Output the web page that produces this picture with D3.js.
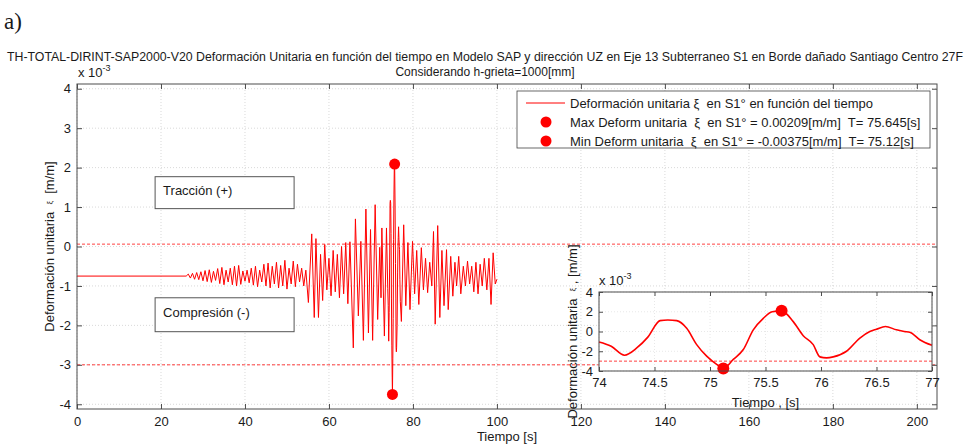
<!DOCTYPE html>
<html>
<head>
<meta charset="utf-8">
<script src="https://cdn.jsdelivr.net/npm/d3@7"></script>
<style>
  body { margin: 0; background: #fff; }
  text { font-family: "Liberation Sans", Arial, Helvetica, sans-serif; fill: #1a1a1a; white-space: pre; }
</style>
</head>
<body>
<svg id="fig" width="967" height="444"></svg>
<script>
// ---- strain record (x10^-3 m/m) versus time [s] ----
const quietT = [0, 26];
const quietV = [-0.75, -0.75];

const buildUpT = [26.5, 27.0, 27.5, 28.0, 28.5, 29.0, 29.5, 30.0, 30.5, 31.0, 31.5, 32.0, 32.5, 33.0, 33.5, 34.0,
  34.5, 35.0, 35.5, 36.0, 36.5, 37.0, 37.5, 38.0, 38.5, 39.0, 39.5, 40.0, 40.5, 41.0, 41.5, 42.0, 42.5, 43.0,
  43.5, 44.0, 44.5, 45.0, 45.5, 46.0, 46.5, 47.0, 47.5, 48.0, 48.5, 49.0, 49.5, 50.0, 50.5, 51.0, 51.5, 52.0,
  52.5, 53.0, 53.5, 54.0, 54.5];
const buildUpV = [-0.70, -0.80, -0.68, -0.83, -0.66, -0.84, -0.64, -0.87, -0.61, -0.89, -0.59, -0.91, -0.63, -0.86, -0.56, -0.94,
  -0.53, -0.97, -0.60, -0.90, -0.55, -0.97, -0.50, -1.00, -0.48, -0.96, -0.62, -0.88, -0.60, -0.92, -0.55, -0.98, -0.50, -1.02,
  -0.60, -0.90, -0.45, -1.00, -0.42, -1.05, -0.50, -0.95, -0.40, -1.05, -0.48, -1.00, -0.35, -1.08, -0.55, -0.95, -0.37, -1.02,
  -0.45, -0.90, -0.55, -1.00, -0.60];

const strongT = [55.1, 55.9, 56.5, 56.9, 57.5, 58.0, 58.5, 59.0, 59.5, 60.0, 60.5, 61.0, 61.5, 62.0, 62.5, 63.0, 63.5,
  64.0, 64.5, 65.0, 65.8, 66.3, 67.0, 67.6, 68.2, 68.8, 69.4, 69.9, 70.4, 71.0, 71.6, 72.1, 72.4, 72.6, 73.2, 73.7];
const strongV = [-1.42, 0.32, -1.80, 0.20, -1.80, -0.20, -1.37, 0.05, -1.10, -0.30, -1.25, -0.10, -1.15, -0.20, -1.30, 0.00, -1.20,
  0.10, -1.45, 0.12, -2.57, 0.70, -1.76, 0.13, -2.38, 0.95, -2.19, 0.43, -2.38, 1.06, -1.85, -0.02, -1.30, 0.47, -2.27, 0.47];

// detail window 74 s - 77 s (also drawn in the inset)
const detailT = [74.00, 74.11, 74.23, 74.34, 74.44, 74.55, 74.62, 74.70, 74.79, 74.88, 74.97, 75.06, 75.12, 75.21, 75.30,
  75.39, 75.48, 75.56, 75.645, 75.75, 75.84, 75.93, 75.99, 76.05, 76.11, 76.23, 76.35, 76.44, 76.50, 76.58, 76.68,
  76.75, 76.80, 76.89, 77.00];
const detailV = [-1.07, -1.50, -2.40, -1.67, -0.57, 1.10, 1.17, 1.10, 0.33, -1.33, -2.50, -3.33, -3.75, -2.83, -1.83,
  0.17, 1.33, 2.00, 2.09, 1.00, -0.43, -1.33, -2.57, -2.67, -2.57, -2.00, -0.67, 0.00, 0.23, 0.50, 0.17,
  0.00, -0.07, -0.83, -1.40];

const codaT = [77.25, 77.8, 78.3, 78.8, 79.3, 79.9, 80.4, 80.9, 81.4, 82.0, 82.5, 83.0, 83.5, 84.0, 84.5, 84.9, 85.3,
  85.9, 86.4, 86.9, 87.4, 88.0, 88.4, 89.0, 89.5, 90.0, 90.4, 90.9, 91.4, 92.0, 92.5, 93.0, 93.5, 94.0, 94.5,
  95.0, 95.5, 96.0, 96.5, 97.0, 97.6, 98.1, 98.6, 99.1, 99.6, 100.0];
const codaV = [-1.90, 0.55, -1.50, 0.10, -1.60, 0.13, -1.20, -0.10, -1.47, -0.03, -1.10, -0.30, -1.17, -0.40, -1.00, 0.38, -1.97,
  0.53, -1.80, -0.10, -1.50, -0.08, -1.60, -0.25, -1.26, -0.40, -1.00, -0.25, -1.20, -0.50, -1.00, -0.37, -0.95, -0.50, -1.15,
  -0.40, -1.20, -0.45, -1.00, -0.30, -1.10, -0.30, -1.47, -0.16, -0.95, -0.83];

// extreme values and reference limits
const maxT = 75.645, maxV = 2.09;
const minT = 75.12, minV = -3.75;
const limitUpper = 0.06, limitLower = -3.0;

// axis ticks
const mainXTicks = [0, 20, 40, 60, 80, 100, 120, 140, 160, 180, 200];
const mainYTicks = [-4, -3, -2, -1, 0, 1, 2, 3, 4];
const insetXTicks = [74, 74.5, 75, 75.5, 76, 76.5, 77];
const insetYTicks = [-4, -2, 0, 2, 4];

// labels
const titleLines = [
  "TH-TOTAL-DIRINT-SAP2000-V20 Deformación Unitaria en función del tiempo en Modelo SAP y dirección UZ en Eje 13 Subterraneo S1 en Borde dañado Santiago Centro 27F",
  "Considerando h-grieta=1000[mm]"
];
const legendLabels = [
  "Deformación unitaria \u03be  en S1° en función del tiempo",
  "Max Deform unitaria  \u03be  en S1° = 0.00209[m/m]  T= 75.645[s]",
  "Min Deform unitaria  \u03be  en S1° = -0.00375[m/m]  T= 75.12[s]"
];

// ---- build series ----
const zip = (ts, vs) => ts.map((t, i) => ({ t, v: vs[i] }));
const record = [].concat(zip(quietT, quietV), zip(buildUpT, buildUpV), zip(strongT, strongV),
  zip(detailT, detailV), zip(codaT, codaV));
const detail = zip(detailT, detailV);

const svg = d3.select("#fig");
const RED = "#ff0000";
const AX = "#4d4d4d";
const plain = d => String(d);   // hyphen-minus tick labels

// ---- main axes ----
const M = { left: 77, right: 937, top: 84, bottom: 409 };
const x = d3.scaleLinear().domain([0, 204.8]).range([M.left, M.right]);
const y = d3.scaleLinear().domain([-4.12, 4.12]).range([M.bottom, M.top]);

svg.append("rect").attr("width", 967).attr("height", 444).attr("fill", "#fff");

// grid
const grid = svg.append("g");
grid.selectAll("line.gx").data(mainXTicks).join("line")
  .attr("x1", d => x(d)).attr("x2", d => x(d)).attr("y1", M.top).attr("y2", M.bottom)
  .attr("stroke", "#cfcfcf").attr("stroke-width", 0.8).attr("stroke-dasharray", "1,2");
grid.selectAll("line.gy").data(mainYTicks).join("line")
  .attr("x1", M.left).attr("x2", M.right).attr("y1", d => y(d)).attr("y2", d => y(d))
  .attr("stroke", "#cfcfcf").attr("stroke-width", 0.8).attr("stroke-dasharray", "1,2");

// annotation boxes
function noteBox(t0, t1, v0, v1, label) {
  const g = svg.append("g");
  g.append("rect").attr("x", x(t0)).attr("y", y(v1)).attr("width", x(t1) - x(t0)).attr("height", y(v0) - y(v1))
    .attr("fill", "#fff").attr("stroke", "#555").attr("stroke-width", 1);
  g.append("text").attr("x", x(t0) + 8).attr("y", (y(v0) + y(v1)) / 2 - 2).attr("dominant-baseline", "central")
    .attr("font-size", 13).text(label);
}
noteBox(18.6, 51.7, 0.96, 1.77, "Tracción (+)");
noteBox(18.6, 51.7, -2.16, -1.3, "Compresión (-)");

// limit lines
[limitUpper, limitLower].forEach(v => {
  svg.append("line").attr("x1", M.left).attr("x2", M.right).attr("y1", y(v)).attr("y2", y(v))
    .attr("stroke", RED).attr("stroke-opacity", 0.75).attr("stroke-width", 1).attr("stroke-dasharray", "3,2");
});

// signal
svg.append("path").datum(record)
  .attr("d", d3.line().x(d => x(d.t)).y(d => y(d.v)))
  .attr("fill", "none").attr("stroke", RED).attr("stroke-width", 1).attr("stroke-linejoin", "round");

// extreme markers
[[maxT, maxV], [minT, minV]].forEach(([t, v]) => {
  svg.append("circle").attr("cx", x(t)).attr("cy", y(v)).attr("r", 5.5).attr("fill", RED);
});

// axes (ticks inward)
function styleAxis(g) {
  g.select(".domain").remove();
  g.selectAll(".tick line").attr("stroke", AX);
  g.selectAll(".tick text").attr("font-size", 13).attr("fill", "#1a1a1a")
    .attr("font-family", "'Liberation Sans', Arial, sans-serif");
}
svg.append("g").attr("transform", `translate(0,${M.bottom})`)
  .call(d3.axisBottom(x).tickValues(mainXTicks).tickFormat(plain).tickSizeInner(-5).tickSizeOuter(0).tickPadding(8)).call(styleAxis);
svg.append("g").attr("transform", `translate(0,${M.top})`)
  .call(d3.axisTop(x).tickValues(mainXTicks).tickSizeInner(-5).tickSizeOuter(0).tickFormat("")).call(styleAxis);
svg.append("g").attr("transform", `translate(${M.left},0)`)
  .call(d3.axisLeft(y).tickValues(mainYTicks).tickFormat(plain).tickSizeInner(-5).tickSizeOuter(0).tickPadding(6)).call(styleAxis);
svg.append("g").attr("transform", `translate(${M.right},0)`)
  .call(d3.axisRight(y).tickValues(mainYTicks).tickSizeInner(-5).tickSizeOuter(0).tickFormat("")).call(styleAxis);
svg.append("rect").attr("x", M.left).attr("y", M.top).attr("width", M.right - M.left).attr("height", M.bottom - M.top)
  .attr("fill", "none").attr("stroke", AX).attr("stroke-width", 1);

// exponent label
const exp1 = svg.append("text").attr("x", M.left + 1).attr("y", M.top - 7).attr("font-size", 13);
exp1.append("tspan").text("x 10");
exp1.append("tspan").attr("font-size", 9).attr("dy", -6).text("-3");

// axis titles
svg.append("text").attr("x", (M.left + M.right) / 2).attr("y", 441).attr("text-anchor", "middle")
  .attr("font-size", 13).text("Tiempo [s]");
const yl = svg.append("text").attr("transform", `translate(49,${(M.top + M.bottom) / 2}) rotate(-90)`)
  .attr("text-anchor", "middle").attr("dominant-baseline", "central").attr("font-size", 13);
yl.append("tspan").text("Deformación unitaria  ");
yl.append("tspan").attr("font-size", 8).text("\u03be");
yl.append("tspan").text("  [m/m]");

// legend
const L = { x: 517, y: 91, w: 413, h: 57 };
const lg = svg.append("g");
lg.append("rect").attr("x", L.x).attr("y", L.y).attr("width", L.w).attr("height", L.h)
  .attr("fill", "#fff").attr("stroke", "#444").attr("stroke-width", 0.8);
lg.append("line").attr("x1", 526).attr("x2", 565).attr("y1", 103).attr("y2", 103).attr("stroke", RED).attr("stroke-width", 1);
lg.append("circle").attr("cx", 546).attr("cy", 122).attr("r", 5.5).attr("fill", RED);
lg.append("circle").attr("cx", 546).attr("cy", 141).attr("r", 5.5).attr("fill", RED);
legendLabels.forEach((s, i) => {
  lg.append("text").attr("x", 570).attr("y", 103 + i * 19).attr("dominant-baseline", "central")
    .attr("font-size", 13).text(s);
});

// titles
svg.append("text").attr("x", 4).attr("y", 29).attr("font-size", 23)
  .style("font-family", "'Liberation Serif', 'Times New Roman', serif").text("a)");
svg.append("text").attr("x", 485).attr("y", 61).attr("text-anchor", "middle").attr("font-size", 12)
  .attr("textLength", 956).attr("lengthAdjust", "spacingAndGlyphs").text(titleLines[0]);
svg.append("text").attr("x", 485).attr("y", 76).attr("text-anchor", "middle").attr("font-size", 12)
  .text(titleLines[1]);

// ---- inset ----
const I = { left: 599, right: 932, top: 292, bottom: 371 };
const xi = d3.scaleLinear().domain([74, 77]).range([I.left, I.right]);
const yi = d3.scaleLinear().domain([-4, 4]).range([I.bottom, I.top]);

svg.append("rect").attr("x", I.left).attr("y", I.top).attr("width", I.right - I.left).attr("height", I.bottom - I.top)
  .attr("fill", "#fff");
const ig = svg.append("g");
ig.selectAll("line.gx").data(insetXTicks).join("line")
  .attr("x1", d => xi(d)).attr("x2", d => xi(d)).attr("y1", I.top).attr("y2", I.bottom)
  .attr("stroke", "#e2e2e2").attr("stroke-width", 0.8).attr("stroke-dasharray", "1,2");
ig.selectAll("line.gy").data(insetYTicks).join("line")
  .attr("x1", I.left).attr("x2", I.right).attr("y1", d => yi(d)).attr("y2", d => yi(d))
  .attr("stroke", "#e2e2e2").attr("stroke-width", 0.8).attr("stroke-dasharray", "1,2");

svg.append("line").attr("x1", I.left).attr("x2", I.right).attr("y1", yi(limitLower)).attr("y2", yi(limitLower))
  .attr("stroke", RED).attr("stroke-opacity", 0.75).attr("stroke-width", 1).attr("stroke-dasharray", "3,2");
svg.append("path").datum(detail)
  .attr("d", d3.line().curve(d3.curveMonotoneX).x(d => xi(d.t)).y(d => yi(d.v)))
  .attr("fill", "none").attr("stroke", RED).attr("stroke-width", 1.6);
[[maxT, maxV], [minT, minV]].forEach(([t, v]) => {
  svg.append("circle").attr("cx", xi(t)).attr("cy", yi(v)).attr("r", 6).attr("fill", RED);
});

svg.append("g").attr("transform", `translate(0,${I.bottom})`)
  .call(d3.axisBottom(xi).tickValues(insetXTicks).tickFormat(plain).tickSizeInner(-4).tickSizeOuter(0).tickPadding(7)).call(styleAxis);
svg.append("g").attr("transform", `translate(0,${I.top})`)
  .call(d3.axisTop(xi).tickValues(insetXTicks).tickSizeInner(-4).tickSizeOuter(0).tickFormat("")).call(styleAxis);
svg.append("g").attr("transform", `translate(${I.left},0)`)
  .call(d3.axisLeft(yi).tickValues(insetYTicks).tickFormat(plain).tickSizeInner(-4).tickSizeOuter(0).tickPadding(6)).call(styleAxis);
svg.append("g").attr("transform", `translate(${I.right},0)`)
  .call(d3.axisRight(yi).tickValues(insetYTicks).tickSizeInner(-4).tickSizeOuter(0).tickFormat("")).call(styleAxis);
svg.append("rect").attr("x", I.left).attr("y", I.top).attr("width", I.right - I.left).attr("height", I.bottom - I.top)
  .attr("fill", "none").attr("stroke", AX).attr("stroke-width", 1);

const exp2 = svg.append("text").attr("x", I.left).attr("y", I.top - 7).attr("font-size", 13);
exp2.append("tspan").text("x 10");
exp2.append("tspan").attr("font-size", 9).attr("dy", -6).text("-3");

svg.append("text").attr("x", (I.left + I.right) / 2).attr("y", 407).attr("text-anchor", "middle")
  .attr("font-size", 13).text("Tiempo , [s]");
const yl2 = svg.append("text").attr("transform", `translate(572,${(I.top + I.bottom) / 2}) rotate(-90)`)
  .attr("text-anchor", "middle").attr("dominant-baseline", "central").attr("font-size", 13);
yl2.append("tspan").text("Deformación unitaria  ");
yl2.append("tspan").attr("font-size", 8).text("\u03be");
yl2.append("tspan").text(" , [m/m]");
</script>
</body>
</html>
